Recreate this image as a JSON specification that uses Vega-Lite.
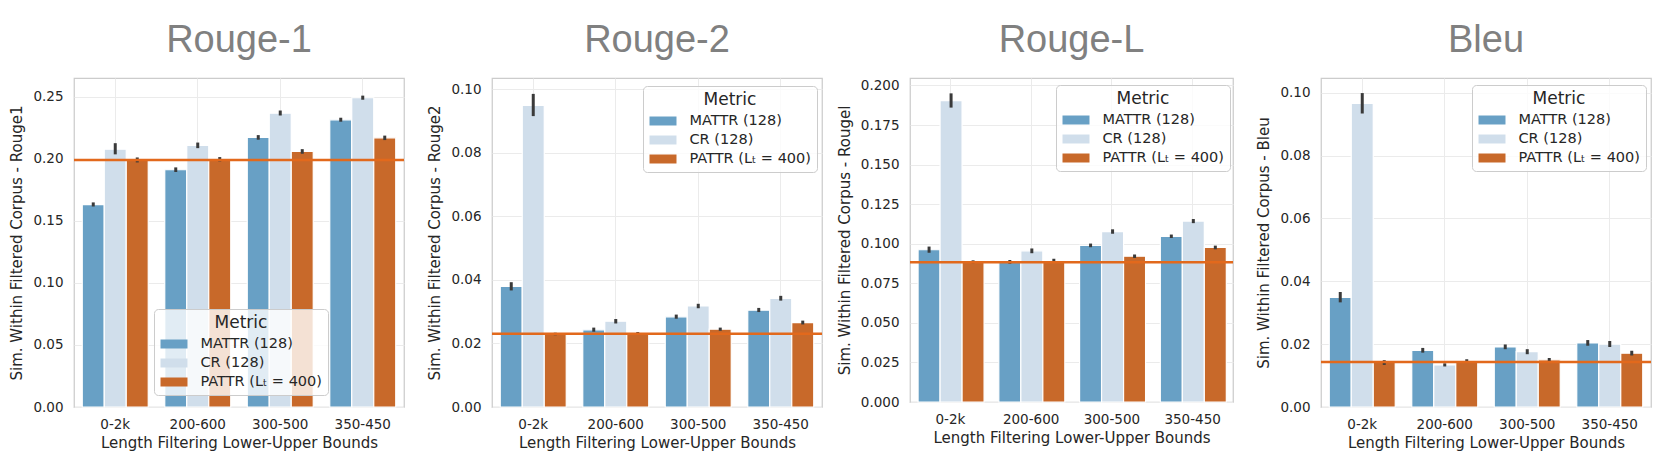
{
  "$schema": "https://vega.github.io/schema/vega-lite/v6.json",
  "padding": {"left": 9, "top": 21, "right": 5, "bottom": 5},
  "background": "white",
  "datasets": {
    "bars": [
      {"panel": "Rouge1", "bounds": "0-2k", "metric": "MATTR (128)", "value": 0.1630, "lo": 0.1615, "hi": 0.1648},
      {"panel": "Rouge1", "bounds": "0-2k", "metric": "CR (128)", "value": 0.2077, "lo": 0.2035, "hi": 0.2125},
      {"panel": "Rouge1", "bounds": "0-2k", "metric": "PATTR (Lₜ = 400)", "value": 0.1991, "lo": 0.1970, "hi": 0.2010},
      {"panel": "Rouge1", "bounds": "200-600", "metric": "MATTR (128)", "value": 0.1911, "lo": 0.1893, "hi": 0.1930},
      {"panel": "Rouge1", "bounds": "200-600", "metric": "CR (128)", "value": 0.2107, "lo": 0.2085, "hi": 0.2130},
      {"panel": "Rouge1", "bounds": "200-600", "metric": "PATTR (Lₜ = 400)", "value": 0.1995, "lo": 0.1978, "hi": 0.2013},
      {"panel": "Rouge1", "bounds": "300-500", "metric": "MATTR (128)", "value": 0.2171, "lo": 0.2153, "hi": 0.2190},
      {"panel": "Rouge1", "bounds": "300-500", "metric": "CR (128)", "value": 0.2367, "lo": 0.2348, "hi": 0.2388},
      {"panel": "Rouge1", "bounds": "300-500", "metric": "PATTR (Lₜ = 400)", "value": 0.2058, "lo": 0.2040, "hi": 0.2077},
      {"panel": "Rouge1", "bounds": "350-450", "metric": "MATTR (128)", "value": 0.2313, "lo": 0.2298, "hi": 0.2330},
      {"panel": "Rouge1", "bounds": "350-450", "metric": "CR (128)", "value": 0.2491, "lo": 0.2475, "hi": 0.2508},
      {"panel": "Rouge1", "bounds": "350-450", "metric": "PATTR (Lₜ = 400)", "value": 0.2168, "lo": 0.2150, "hi": 0.2186},

      {"panel": "Rouge2", "bounds": "0-2k", "metric": "MATTR (128)", "value": 0.0380, "lo": 0.0367, "hi": 0.0393},
      {"panel": "Rouge2", "bounds": "0-2k", "metric": "CR (128)", "value": 0.0950, "lo": 0.0916, "hi": 0.0986},
      {"panel": "Rouge2", "bounds": "0-2k", "metric": "PATTR (Lₜ = 400)", "value": 0.0230, "lo": 0.0226, "hi": 0.0234},
      {"panel": "Rouge2", "bounds": "200-600", "metric": "MATTR (128)", "value": 0.0243, "lo": 0.0237, "hi": 0.0250},
      {"panel": "Rouge2", "bounds": "200-600", "metric": "CR (128)", "value": 0.0270, "lo": 0.0263, "hi": 0.0277},
      {"panel": "Rouge2", "bounds": "200-600", "metric": "PATTR (Lₜ = 400)", "value": 0.0232, "lo": 0.0229, "hi": 0.0236},
      {"panel": "Rouge2", "bounds": "300-500", "metric": "MATTR (128)", "value": 0.0284, "lo": 0.0278, "hi": 0.0291},
      {"panel": "Rouge2", "bounds": "300-500", "metric": "CR (128)", "value": 0.0318, "lo": 0.0311, "hi": 0.0325},
      {"panel": "Rouge2", "bounds": "300-500", "metric": "PATTR (Lₜ = 400)", "value": 0.0245, "lo": 0.0240, "hi": 0.0250},
      {"panel": "Rouge2", "bounds": "350-450", "metric": "MATTR (128)", "value": 0.0305, "lo": 0.0299, "hi": 0.0312},
      {"panel": "Rouge2", "bounds": "350-450", "metric": "CR (128)", "value": 0.0342, "lo": 0.0335, "hi": 0.0350},
      {"panel": "Rouge2", "bounds": "350-450", "metric": "PATTR (Lₜ = 400)", "value": 0.0266, "lo": 0.0260, "hi": 0.0272},

      {"panel": "Rougel", "bounds": "0-2k", "metric": "MATTR (128)", "value": 0.0962, "lo": 0.0943, "hi": 0.0982},
      {"panel": "Rougel", "bounds": "0-2k", "metric": "CR (128)", "value": 0.1904, "lo": 0.1860, "hi": 0.1950},
      {"panel": "Rougel", "bounds": "0-2k", "metric": "PATTR (Lₜ = 400)", "value": 0.0887, "lo": 0.0877, "hi": 0.0895},
      {"panel": "Rougel", "bounds": "200-600", "metric": "MATTR (128)", "value": 0.0885, "lo": 0.0873, "hi": 0.0897},
      {"panel": "Rougel", "bounds": "200-600", "metric": "CR (128)", "value": 0.0955, "lo": 0.0940, "hi": 0.0970},
      {"panel": "Rougel", "bounds": "200-600", "metric": "PATTR (Lₜ = 400)", "value": 0.0895, "lo": 0.0885, "hi": 0.0905},
      {"panel": "Rougel", "bounds": "300-500", "metric": "MATTR (128)", "value": 0.0989, "lo": 0.0978, "hi": 0.1001},
      {"panel": "Rougel", "bounds": "300-500", "metric": "CR (128)", "value": 0.1077, "lo": 0.1063, "hi": 0.1091},
      {"panel": "Rougel", "bounds": "300-500", "metric": "PATTR (Lₜ = 400)", "value": 0.0921, "lo": 0.0910, "hi": 0.0932},
      {"panel": "Rougel", "bounds": "350-450", "metric": "MATTR (128)", "value": 0.1047, "lo": 0.1036, "hi": 0.1058},
      {"panel": "Rougel", "bounds": "350-450", "metric": "CR (128)", "value": 0.1143, "lo": 0.1130, "hi": 0.1156},
      {"panel": "Rougel", "bounds": "350-450", "metric": "PATTR (Lₜ = 400)", "value": 0.0977, "lo": 0.0965, "hi": 0.0988},

      {"panel": "Bleu", "bounds": "0-2k", "metric": "MATTR (128)", "value": 0.0349, "lo": 0.0333, "hi": 0.0366},
      {"panel": "Bleu", "bounds": "0-2k", "metric": "CR (128)", "value": 0.0966, "lo": 0.0934, "hi": 0.0999},
      {"panel": "Bleu", "bounds": "0-2k", "metric": "PATTR (Lₜ = 400)", "value": 0.0142, "lo": 0.0134, "hi": 0.0149},
      {"panel": "Bleu", "bounds": "200-600", "metric": "MATTR (128)", "value": 0.0180, "lo": 0.0173, "hi": 0.0188},
      {"panel": "Bleu", "bounds": "200-600", "metric": "CR (128)", "value": 0.0134, "lo": 0.0129, "hi": 0.0139},
      {"panel": "Bleu", "bounds": "200-600", "metric": "PATTR (Lₜ = 400)", "value": 0.0146, "lo": 0.0140, "hi": 0.0152},
      {"panel": "Bleu", "bounds": "300-500", "metric": "MATTR (128)", "value": 0.0191, "lo": 0.0184, "hi": 0.0199},
      {"panel": "Bleu", "bounds": "300-500", "metric": "CR (128)", "value": 0.0176, "lo": 0.0168, "hi": 0.0184},
      {"panel": "Bleu", "bounds": "300-500", "metric": "PATTR (Lₜ = 400)", "value": 0.0150, "lo": 0.0144, "hi": 0.0156},
      {"panel": "Bleu", "bounds": "350-450", "metric": "MATTR (128)", "value": 0.0204, "lo": 0.0195, "hi": 0.0213},
      {"panel": "Bleu", "bounds": "350-450", "metric": "CR (128)", "value": 0.0200, "lo": 0.0191, "hi": 0.0210},
      {"panel": "Bleu", "bounds": "350-450", "metric": "PATTR (Lₜ = 400)", "value": 0.0171, "lo": 0.0164, "hi": 0.0179}
    ],
    "refs": [
      {"panel": "Rouge1", "ref": 0.199},
      {"panel": "Rouge2", "ref": 0.0231},
      {"panel": "Rougel", "ref": 0.0883},
      {"panel": "Bleu", "ref": 0.0143}
    ]
  },
  "hconcat": [
    {
      "width": 330, "height": 329,
      "title": "Rouge-1",
      "layer": [
        {
          "data": {"name": "bars"},
          "transform": [{"filter": "datum.panel === 'Rouge1'"}],
          "mark": {"type": "bar", "stroke": "white", "strokeWidth": 1.2},
          "encoding": {
            "x": {"field": "bounds", "type": "nominal", "sort": ["0-2k", "200-600", "300-500", "350-450"], "title": "Length Filtering Lower-Upper Bounds", "scale": {"paddingInner": 0.2, "paddingOuter": 0.1}},
            "xOffset": {"field": "metric", "type": "nominal", "sort": ["MATTR (128)", "CR (128)", "PATTR (Lₜ = 400)"], "scale": {"paddingInner": 0, "paddingOuter": 0}},
            "y": {"field": "value", "type": "quantitative", "title": "Sim. Within Filtered Corpus - Rouge1", "scale": {"domain": [0, 0.265], "nice": false}, "axis": {"values": [0, 0.05, 0.1, 0.15, 0.2, 0.25], "format": ".2f"}},
            "color": {"field": "metric", "type": "nominal", "scale": {"domain": ["MATTR (128)", "CR (128)", "PATTR (Lₜ = 400)"], "range": ["#68a0c5", "#d0deeb", "#c8692a"]}, "legend": {"title": "Metric", "orient": "none", "legendX": 80, "legendY": 231}}
          }
        },
        {
          "data": {"name": "bars"},
          "transform": [{"filter": "datum.panel === 'Rouge1'"}],
          "mark": {"type": "rule", "color": "#3a3a3a", "strokeWidth": 3},
          "encoding": {
            "x": {"field": "bounds", "type": "nominal", "sort": ["0-2k", "200-600", "300-500", "350-450"], "title": "Length Filtering Lower-Upper Bounds"},
            "xOffset": {"field": "metric", "type": "nominal", "sort": ["MATTR (128)", "CR (128)", "PATTR (Lₜ = 400)"]},
            "y": {"field": "lo", "type": "quantitative", "title": "Sim. Within Filtered Corpus - Rouge1"},
            "y2": {"field": "hi"}
          }
        },
        {
          "data": {"name": "refs"},
          "transform": [{"filter": "datum.panel === 'Rouge1'"}],
          "mark": {"type": "rule", "color": "#e2691c", "strokeWidth": 2.5},
          "encoding": {
            "y": {"field": "ref", "type": "quantitative", "title": "Sim. Within Filtered Corpus - Rouge1"}
          }
        }
      ]
    },
    {
      "width": 330, "height": 329,
      "title": "Rouge-2",
      "layer": [
        {
          "data": {"name": "bars"},
          "transform": [{"filter": "datum.panel === 'Rouge2'"}],
          "mark": {"type": "bar", "stroke": "white", "strokeWidth": 1.2},
          "encoding": {
            "x": {"field": "bounds", "type": "nominal", "sort": ["0-2k", "200-600", "300-500", "350-450"], "title": "Length Filtering Lower-Upper Bounds", "scale": {"paddingInner": 0.2, "paddingOuter": 0.1}},
            "xOffset": {"field": "metric", "type": "nominal", "sort": ["MATTR (128)", "CR (128)", "PATTR (Lₜ = 400)"], "scale": {"paddingInner": 0, "paddingOuter": 0}},
            "y": {"field": "value", "type": "quantitative", "title": "Sim. Within Filtered Corpus - Rouge2", "scale": {"domain": [0, 0.1036], "nice": false}, "axis": {"values": [0, 0.02, 0.04, 0.06, 0.08, 0.1], "format": ".2f"}},
            "color": {"field": "metric", "type": "nominal", "scale": {"domain": ["MATTR (128)", "CR (128)", "PATTR (Lₜ = 400)"], "range": ["#68a0c5", "#d0deeb", "#c8692a"]}, "legend": {"title": "Metric", "orient": "none", "legendX": 151, "legendY": 8}}
          }
        },
        {
          "data": {"name": "bars"},
          "transform": [{"filter": "datum.panel === 'Rouge2'"}],
          "mark": {"type": "rule", "color": "#3a3a3a", "strokeWidth": 3},
          "encoding": {
            "x": {"field": "bounds", "type": "nominal", "sort": ["0-2k", "200-600", "300-500", "350-450"], "title": "Length Filtering Lower-Upper Bounds"},
            "xOffset": {"field": "metric", "type": "nominal", "sort": ["MATTR (128)", "CR (128)", "PATTR (Lₜ = 400)"]},
            "y": {"field": "lo", "type": "quantitative", "title": "Sim. Within Filtered Corpus - Rouge2"},
            "y2": {"field": "hi"}
          }
        },
        {
          "data": {"name": "refs"},
          "transform": [{"filter": "datum.panel === 'Rouge2'"}],
          "mark": {"type": "rule", "color": "#e2691c", "strokeWidth": 2.5},
          "encoding": {
            "y": {"field": "ref", "type": "quantitative", "title": "Sim. Within Filtered Corpus - Rouge2"}
          }
        }
      ]
    },
    {
      "width": 323, "height": 324,
      "title": "Rouge-L",
      "layer": [
        {
          "data": {"name": "bars"},
          "transform": [{"filter": "datum.panel === 'Rougel'"}],
          "mark": {"type": "bar", "stroke": "white", "strokeWidth": 1.2},
          "encoding": {
            "x": {"field": "bounds", "type": "nominal", "sort": ["0-2k", "200-600", "300-500", "350-450"], "title": "Length Filtering Lower-Upper Bounds", "scale": {"paddingInner": 0.2, "paddingOuter": 0.1}},
            "xOffset": {"field": "metric", "type": "nominal", "sort": ["MATTR (128)", "CR (128)", "PATTR (Lₜ = 400)"], "scale": {"paddingInner": 0, "paddingOuter": 0}},
            "y": {"field": "value", "type": "quantitative", "title": "Sim. Within Filtered Corpus - Rougel", "scale": {"domain": [0, 0.2047], "nice": false}, "axis": {"values": [0, 0.025, 0.05, 0.075, 0.1, 0.125, 0.15, 0.175, 0.2], "format": ".3f"}},
            "color": {"field": "metric", "type": "nominal", "scale": {"domain": ["MATTR (128)", "CR (128)", "PATTR (Lₜ = 400)"], "range": ["#68a0c5", "#d0deeb", "#c8692a"]}, "legend": {"title": "Metric", "orient": "none", "legendX": 146, "legendY": 7}}
          }
        },
        {
          "data": {"name": "bars"},
          "transform": [{"filter": "datum.panel === 'Rougel'"}],
          "mark": {"type": "rule", "color": "#3a3a3a", "strokeWidth": 3},
          "encoding": {
            "x": {"field": "bounds", "type": "nominal", "sort": ["0-2k", "200-600", "300-500", "350-450"], "title": "Length Filtering Lower-Upper Bounds"},
            "xOffset": {"field": "metric", "type": "nominal", "sort": ["MATTR (128)", "CR (128)", "PATTR (Lₜ = 400)"]},
            "y": {"field": "lo", "type": "quantitative", "title": "Sim. Within Filtered Corpus - Rougel"},
            "y2": {"field": "hi"}
          }
        },
        {
          "data": {"name": "refs"},
          "transform": [{"filter": "datum.panel === 'Rougel'"}],
          "mark": {"type": "rule", "color": "#e2691c", "strokeWidth": 2.5},
          "encoding": {
            "y": {"field": "ref", "type": "quantitative", "title": "Sim. Within Filtered Corpus - Rougel"}
          }
        }
      ]
    },
    {
      "width": 330, "height": 329,
      "title": "Bleu",
      "layer": [
        {
          "data": {"name": "bars"},
          "transform": [{"filter": "datum.panel === 'Bleu'"}],
          "mark": {"type": "bar", "stroke": "white", "strokeWidth": 1.2},
          "encoding": {
            "x": {"field": "bounds", "type": "nominal", "sort": ["0-2k", "200-600", "300-500", "350-450"], "title": "Length Filtering Lower-Upper Bounds", "scale": {"paddingInner": 0.2, "paddingOuter": 0.1}},
            "xOffset": {"field": "metric", "type": "nominal", "sort": ["MATTR (128)", "CR (128)", "PATTR (Lₜ = 400)"], "scale": {"paddingInner": 0, "paddingOuter": 0}},
            "y": {"field": "value", "type": "quantitative", "title": "Sim. Within Filtered Corpus - Bleu", "scale": {"domain": [0, 0.1047], "nice": false}, "axis": {"values": [0, 0.02, 0.04, 0.06, 0.08, 0.1], "format": ".2f"}},
            "color": {"field": "metric", "type": "nominal", "scale": {"domain": ["MATTR (128)", "CR (128)", "PATTR (Lₜ = 400)"], "range": ["#68a0c5", "#d0deeb", "#c8692a"]}, "legend": {"title": "Metric", "orient": "none", "legendX": 151, "legendY": 7}}
          }
        },
        {
          "data": {"name": "bars"},
          "transform": [{"filter": "datum.panel === 'Bleu'"}],
          "mark": {"type": "rule", "color": "#3a3a3a", "strokeWidth": 3},
          "encoding": {
            "x": {"field": "bounds", "type": "nominal", "sort": ["0-2k", "200-600", "300-500", "350-450"], "title": "Length Filtering Lower-Upper Bounds"},
            "xOffset": {"field": "metric", "type": "nominal", "sort": ["MATTR (128)", "CR (128)", "PATTR (Lₜ = 400)"]},
            "y": {"field": "lo", "type": "quantitative", "title": "Sim. Within Filtered Corpus - Bleu"},
            "y2": {"field": "hi"}
          }
        },
        {
          "data": {"name": "refs"},
          "transform": [{"filter": "datum.panel === 'Bleu'"}],
          "mark": {"type": "rule", "color": "#e2691c", "strokeWidth": 2.5},
          "encoding": {
            "y": {"field": "ref", "type": "quantitative", "title": "Sim. Within Filtered Corpus - Bleu"}
          }
        }
      ]
    }
  ],
  "spacing": 88,
  "bounds": "flush",
  "resolve": {"scale": {"color": "independent"}, "legend": {"color": "independent"}},
  "config": {
    "font": "DejaVu Sans",
    "view": {"stroke": "#cccccc", "strokeWidth": 1.25},
    "axis": {
      "grid": true, "gridColor": "#ebebeb", "gridWidth": 1, "domain": false, "ticks": false,
      "labelColor": "#262626", "titleColor": "#262626", "labelFontSize": 13.5, "titleFontSize": 15,
      "titleFontWeight": "normal", "labelFont": "DejaVu Sans", "titleFont": "DejaVu Sans"
    },
    "axisX": {"labelAngle": 0, "labelPadding": 10, "titlePadding": 5, "bandPosition": 0.5},
    "axisY": {"labelPadding": 11, "titlePadding": 8},
    "title": {"font": "Liberation Sans", "fontSize": 38, "fontWeight": "normal", "color": "#808080", "offset": 18, "anchor": "middle"},
    "legend": {
      "titleFontSize": 17, "titleFontWeight": "normal", "titleColor": "#262626", "titleAnchor": "middle", "titleFont": "DejaVu Sans",
      "labelFontSize": 14.5, "labelColor": "#262626", "labelFont": "DejaVu Sans",
      "fillColor": "rgba(255,255,255,0.8)", "strokeColor": "#cccccc", "cornerRadius": 4, "padding": 6,
      "rowPadding": 3, "titlePadding": 3,
      "symbolType": "M-1.5,-0.5H1.5V0.5H-1.5Z", "symbolSize": 324, "symbolStrokeWidth": 0, "symbolOpacity": 1,
      "symbolOffset": 5, "labelOffset": 17.5
    }
  }
}
